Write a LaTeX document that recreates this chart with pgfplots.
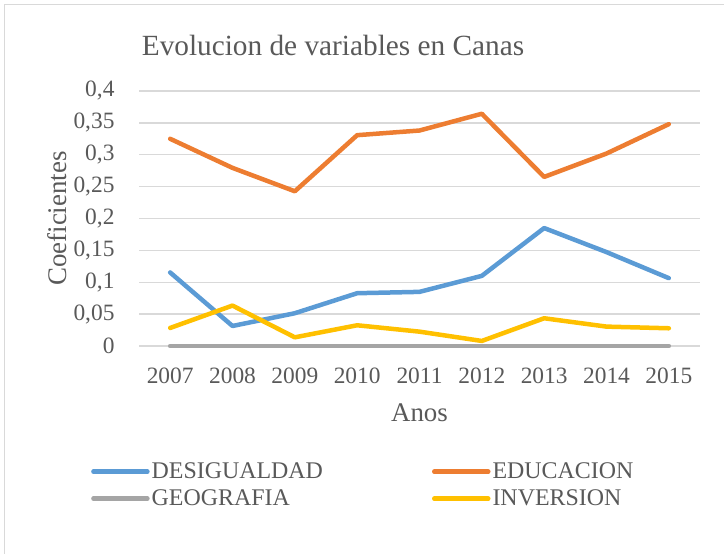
\documentclass[border=0pt]{standalone}
\usepackage{pgfplots}
\pgfplotsset{compat=1.18}
\usepackage{fontspec}
\setmainfont{Liberation Serif}
\definecolor{txt}{HTML}{595959}
\definecolor{cblue}{HTML}{5B9BD5}
\definecolor{corange}{HTML}{ED7D31}
\definecolor{cgray}{HTML}{A5A5A5}
\definecolor{cyellow}{HTML}{FFC000}
\definecolor{gridc}{HTML}{D9D9D9}
\begin{document}
\begin{tikzpicture}[x=1bp,y=1bp]
\useasboundingbox (0,0) rectangle (724,554);
\draw[gridc, line width=1.2bp] (4.5,0) -- (4.5,549.5) -- (724,549.5);
\node[font=\fontsize{29.4}{33}\selectfont, text=txt, anchor=center] at (333,509) {Evolucion de variables en Canas};
\begin{axis}[
  at={(139bp,208bp)}, anchor=south west,
  scale only axis, width=561bp, height=255bp,
  xmin=-0.5, xmax=8.5, ymin=0, ymax=0.4,
  clip=false,
  xtick={0,...,8},
  xticklabels={2007,2008,2009,2010,2011,2012,2013,2014,2015},
  ytick={0,0.05,...,0.41},
  yticklabels={0,{0,05},{0,1},{0,15},{0,2},{0,25},{0,3},{0,35},{0,4}},
  ymajorgrids=true, xmajorgrids=false,
  grid style={draw=gridc, line width=1.3bp},
  axis line style={draw=none},
  major tick length=0pt,
  tick label style={font=\fontsize{23.5}{27}\selectfont, text=txt},
  xticklabel style={yshift=-18.5bp},
  yticklabel style={xshift=-21bp},
  xlabel={Anos}, ylabel={Coeficientes},
  label style={font=\fontsize{27}{31}\selectfont, text=txt},
  xlabel style={at={(axis description cs:0.5,-0.263)}, anchor=center},
  ylabel style={at={(axis description cs:-0.145,0.5)}, anchor=center},
  every axis plot/.append style={line width=4.5bp, line cap=round, line join=round},
  legend columns=2,
  legend style={draw=none, fill=none, at={(axis description cs:-0.0856,-0.443)}, anchor=north west,
    font=\fontsize{24}{28}\selectfont, text=txt, inner sep=0pt, row sep=2bp,
    nodes={inner sep=2bp, text height=17bp, text depth=4bp},
    /tikz/every even column/.append style={column sep=107bp}},
  legend image code/.code={\draw[#1] (0bp,0bp) -- (54bp,0bp);},
  legend cell align=left,
]
\addplot[cblue] coordinates {(0,0.1153) (1,0.0314) (2,0.0514) (3,0.0828) (4,0.0849) (5,0.110) (6,0.185) (7,0.1473) (8,0.1064)};
\addlegendentry{DESIGUALDAD}
\addplot[corange] coordinates {(0,0.325) (1,0.2794) (2,0.2427) (3,0.3307) (4,0.338) (5,0.3643) (6,0.2652) (7,0.3019) (8,0.348)};
\addlegendentry{EDUCACION}
\addplot[cgray] coordinates {(0,0) (1,0) (2,0) (3,0) (4,0) (5,0) (6,0) (7,0) (8,0)};
\addlegendentry{GEOGRAFIA}
\addplot[cyellow] coordinates {(0,0.0283) (1,0.0634) (2,0.0136) (3,0.0325) (4,0.0225) (5,0.0079) (6,0.0435) (7,0.0304) (8,0.0278)};
\addlegendentry{INVERSION}
\end{axis}
\end{tikzpicture}
\end{document}
